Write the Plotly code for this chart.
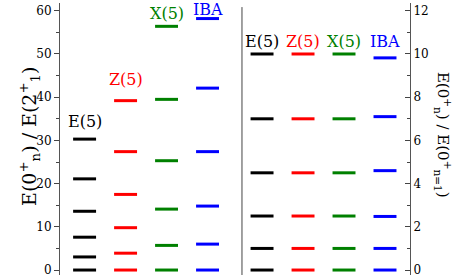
import plotly.graph_objects as go

models = ["E(5)", "Z(5)", "X(5)", "IBA"]
colors = ["black", "red", "green", "blue"]

# E(0+_n)/E(2+_1)
e5_left = [0, 3.03, 7.6, 13.6, 21.1, 30.3]
z5_left = [0, 3.9, 9.8, 17.5, 27.4, 39.2]
x5_left = [0, 5.7, 14.1, 25.3, 39.5, 56.4]
iba_left = [0, 6.0, 14.8, 27.4, 42.1, 58.2]

# E(0+_n)/E(0+_{n=1})
e5_right = [0, 1.0, 2.5, 4.5, 7.0, 10.0]
z5_right = [0, 1.0, 2.5, 4.5, 7.0, 10.0]
x5_right = [0, 1.0, 2.5, 4.5, 7.0, 10.0]
iba_right = [0, 1.0, 2.48, 4.6, 7.1, 9.82]

left_ticks = [0, 10, 20, 30, 40, 50, 60]
right_ticks = [0, 2, 4, 6, 8, 10, 12]

left_sets = [e5_left, z5_left, x5_left, iba_left]
right_sets = [e5_right, z5_right, x5_right, iba_right]

left_pos = [0.6, 1.6, 2.6, 3.6]
right_pos = [4.93, 5.93, 6.93, 7.93]
hw = 0.28
label_y_left = [34.3, 44.1, 59.3, 60.3]
label_y_right = 10.6
FONT = "DejaVu Serif"

fig = go.Figure()

def add_levels(xc, vals, color, yaxis):
    xs, ys = [], []
    for v in vals:
        xs += [xc - hw, xc + hw, None]
        ys += [v, v, None]
    fig.add_trace(go.Scatter(x=xs, y=ys, mode="lines", yaxis=yaxis,
                             line=dict(color=color, width=3),
                             showlegend=False, hoverinfo="skip"))

for i, m in enumerate(models):
    add_levels(left_pos[i], left_sets[i], colors[i], "y")
    add_levels(right_pos[i], right_sets[i], colors[i], "y2")
    fig.add_annotation(x=left_pos[i], y=label_y_left[i], xref="x", yref="y",
                       text=m, showarrow=False,
                       font=dict(family=FONT, size=16, color=colors[i]))
    fig.add_annotation(x=right_pos[i], y=label_y_right, xref="x", yref="y2",
                       text=m, showarrow=False,
                       font=dict(family=FONT, size=16, color=colors[i]))

# divider
fig.add_shape(type="line", xref="x", yref="paper", x0=4.44, x1=4.44, y0=0, y1=0.985,
              line=dict(color="#444", width=1))

fig.add_annotation(x=-0.131, y=0.51, xref="paper", yref="paper",
                   text="E(0<sup>+</sup><sub>n</sub>) / E(2<sup>+</sup><sub>1</sub>)",
                   textangle=-90, showarrow=False,
                   font=dict(family=FONT, size=19, color="black"))
fig.add_annotation(x=1.13, y=0.515, xref="paper", yref="paper",
                   text="E(0<sup>+</sup><sub>n</sub>) / E(0<sup>+</sup><sub>n=1</sub>)",
                   textangle=90, showarrow=False,
                   font=dict(family=FONT, size=15, color="black"))

fig.update_layout(
    width=466, height=278,
    margin=dict(l=60, r=56, t=3, b=1),
    plot_bgcolor="white", paper_bgcolor="white",
    font=dict(family=FONT, size=12, color="black"),
    xaxis=dict(range=[0, 8.54], visible=False, fixedrange=True),
    yaxis=dict(range=[-1.15, 61.8], tickvals=left_ticks, ticks="outside",
               ticklen=5, tickcolor="#444", showline=True, linecolor="#555",
               linewidth=1, showgrid=False, zeroline=False,
               ticklabeloverflow="allow",
               minor=dict(tickvals=[5, 15, 25, 35, 45, 55], ticks="outside",
                          ticklen=3, tickcolor="#444")),
    yaxis2=dict(range=[-0.23, 12.36], tickvals=right_ticks, side="right",
                overlaying="y", ticks="inside", ticklen=5, tickcolor="#444",
                showline=True, linecolor="#555", linewidth=1, showgrid=False,
                zeroline=False, ticklabeloverflow="allow",
                minor=dict(tickvals=[1, 3, 5, 7, 9, 11], ticks="inside",
                           ticklen=3, tickcolor="#444")),
)

fig.write_html("out.html", config={"displayModeBar": False},
               post_script="document.body.style.margin='0';document.body.style.overflow='hidden';")
